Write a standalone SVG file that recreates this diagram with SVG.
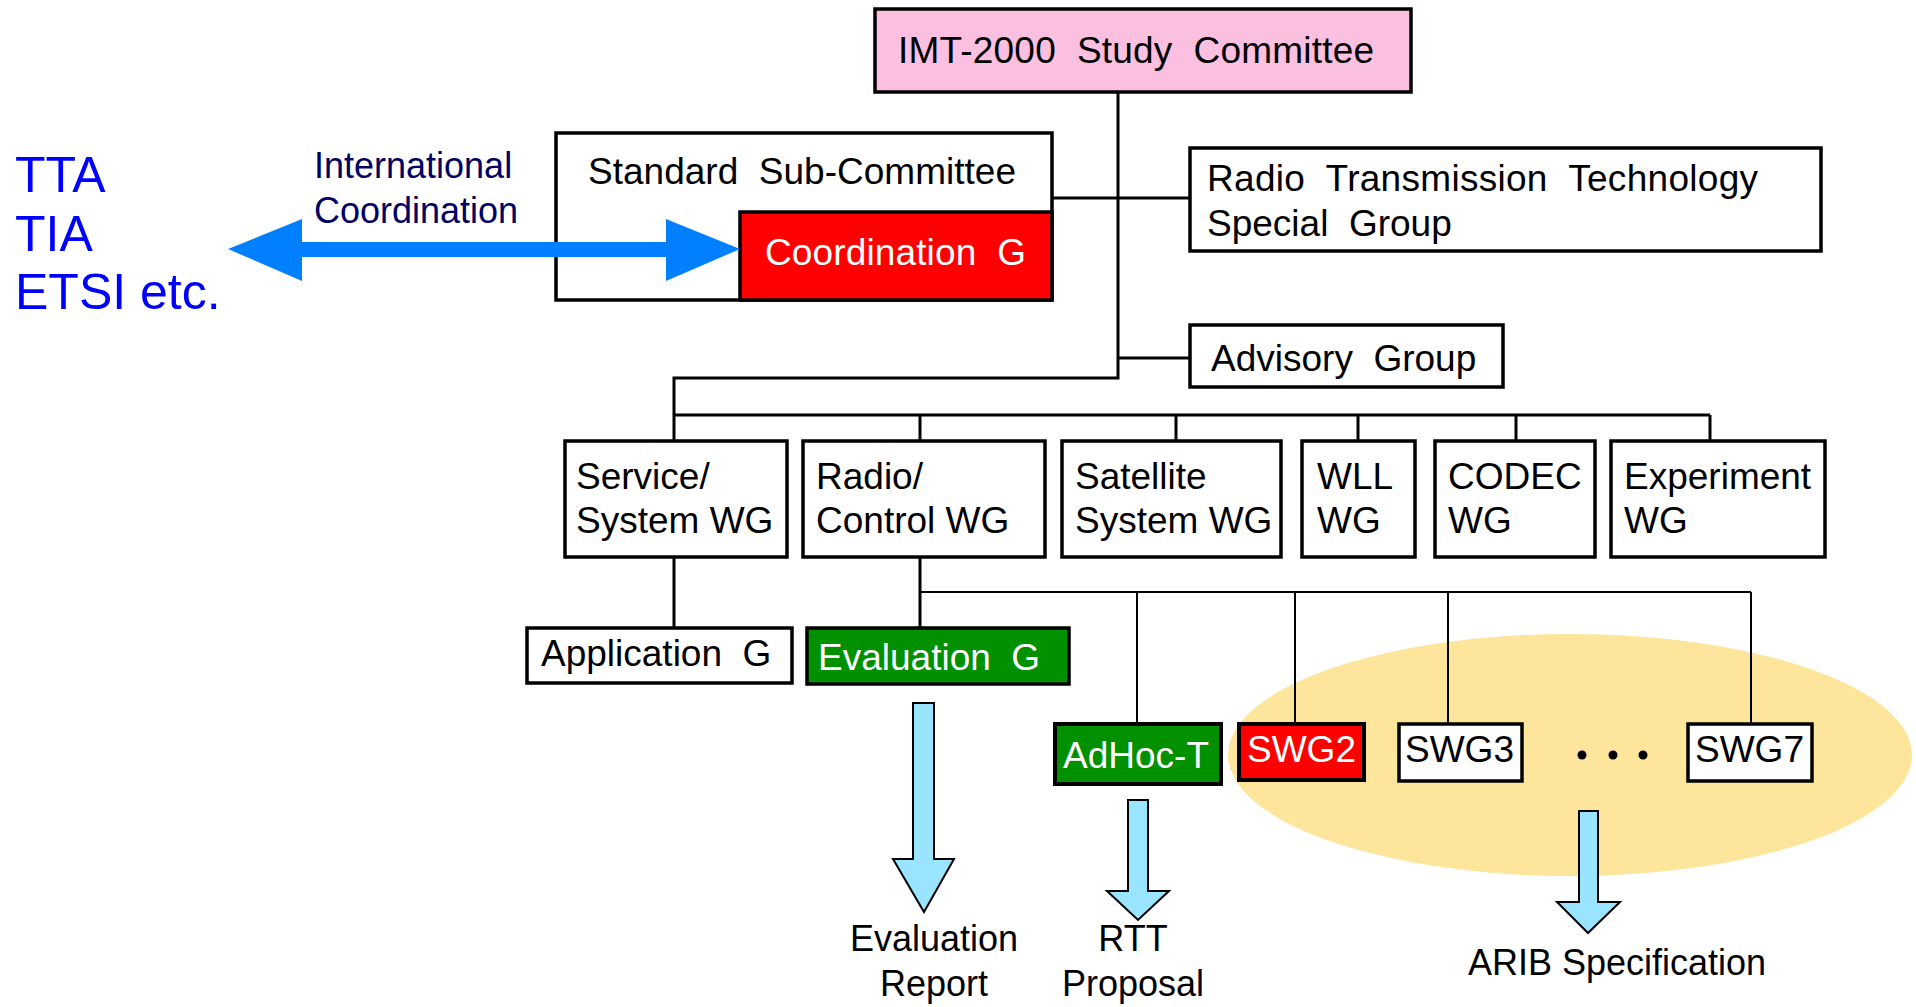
<svg xmlns="http://www.w3.org/2000/svg" width="1916" height="1007" viewBox="0 0 1916 1007">
<style>
text{font-family:"Liberation Sans",Arial,sans-serif;font-size:37px;fill:#000}
.box{fill:#fff;stroke:#000;stroke-width:3.5}
.w{fill:#fff}
.ln{stroke:#000;stroke-width:3;fill:none}
.thin{stroke:#000;stroke-width:2;fill:none}
.down{fill:#99E5FF;stroke:#000;stroke-width:2;stroke-linejoin:miter}
.lbl{font-size:36px;text-anchor:middle}
</style>
<rect width="1916" height="1007" fill="#fff"/>
<ellipse id="swg-area" cx="1570" cy="755" rx="342" ry="121" fill="#FDE59C"/>
<g id="imt"><rect x="875" y="9" width="536" height="83" fill="#FBBFE0" stroke="#000" stroke-width="3.5"/><text x="898" y="63" xml:space="preserve" textLength="476" lengthAdjust="spacing">IMT-2000  Study  Committee</text></g>
<g id="standard"><rect class="box" x="556" y="133" width="496" height="167"/><text x="588" y="184" xml:space="preserve" textLength="428" lengthAdjust="spacing">Standard  Sub-Committee</text></g>
<g id="coordination"><rect x="740" y="212" width="312" height="88" fill="#FF0000" stroke="#000" stroke-width="3.5"/><text class="w" x="765" y="265" xml:space="preserve" textLength="261" lengthAdjust="spacing">Coordination  G</text></g>
<g id="rtt-sg"><rect class="box" x="1190" y="148" width="631" height="103"/><text x="1207" y="191" xml:space="preserve" textLength="551" lengthAdjust="spacing">Radio  Transmission  Technology</text><text x="1207" y="236" xml:space="preserve">Special  Group</text></g>
<g id="advisory"><rect class="box" x="1190" y="325" width="313" height="62"/><text x="1211" y="371" xml:space="preserve">Advisory  Group</text></g>
<g id="service"><rect class="box" x="565" y="441" width="222" height="116"/><text x="576" y="489">Service/</text><text x="576" y="533">System WG</text></g>
<g id="radio"><rect class="box" x="803" y="441" width="242" height="116"/><text x="816" y="489">Radio/</text><text x="816" y="533">Control WG</text></g>
<g id="satellite"><rect class="box" x="1062" y="441" width="219" height="116"/><text x="1075" y="489">Satellite</text><text x="1075" y="533">System WG</text></g>
<g id="wll"><rect class="box" x="1302" y="441" width="113" height="116"/><text x="1317" y="489">WLL</text><text x="1317" y="533">WG</text></g>
<g id="codec"><rect class="box" x="1435" y="441" width="160" height="116"/><text x="1448" y="489">CODEC</text><text x="1448" y="533">WG</text></g>
<g id="experiment"><rect class="box" x="1611" y="441" width="214" height="116"/><text x="1624" y="489">Experiment</text><text x="1624" y="533">WG</text></g>
<g id="application"><rect class="box" x="527" y="628" width="265" height="55"/><text x="541" y="666" xml:space="preserve">Application  G</text></g>
<g id="evaluation"><rect x="807" y="628" width="262" height="56" fill="#009000" stroke="#000" stroke-width="3.5"/><text class="w" x="818" y="670" xml:space="preserve">Evaluation  G</text></g>
<g id="adhoc"><rect x="1055" y="724" width="166" height="60" fill="#009000" stroke="#000" stroke-width="4"/><text class="w" x="1063" y="768">AdHoc-T</text></g>
<g id="swg2"><rect x="1239" y="724" width="125" height="56" fill="#FF0000" stroke="#000" stroke-width="4"/><text class="w" x="1247" y="762">SWG2</text></g>
<g id="swg3"><rect class="box" x="1399" y="724" width="123" height="57" stroke-width="4"/><text x="1405" y="762">SWG3</text></g>
<g id="dots" fill="#000"><circle cx="1582" cy="755" r="4.5"/><circle cx="1613" cy="755" r="4.5"/><circle cx="1643" cy="755" r="4.5"/></g>
<g id="swg7"><rect class="box" x="1688" y="724" width="124" height="57" stroke-width="4"/><text x="1695" y="762">SWG7</text></g>
<g id="orgs"><text x="15" y="192" style="font-size:50px;fill:#0000FF">TTA</text><text x="15" y="251" style="font-size:50px;fill:#0000FF">TIA</text><text x="15" y="309" style="font-size:50px;fill:#0000FF">ETSI etc.</text></g>
<g id="intl-label"><text x="314" y="178" style="font-size:36px;fill:#000066">International</text><text x="314" y="223" style="font-size:36px;fill:#000066">Coordination</text></g>
<g id="outputs"><text class="lbl" x="934" y="951">Evaluation</text><text class="lbl" x="934" y="996">Report</text><text class="lbl" x="1133" y="951">RTT</text><text class="lbl" x="1133" y="996">Proposal</text><text class="lbl" x="1617" y="975">ARIB Specification</text></g>
<g id="connectors">
<path class="ln" d="M1118 92V378H674V441M674 415H1710M920 415V441M1176 415V441M1358 415V441M1516 415V441M1710 415V441"/>
<path class="ln" d="M1052 198H1190M1118 358H1190"/>
<path class="ln" d="M674 557V628M920 557V628"/>
<path class="thin" d="M920 592H1751M1137 592V724M1295 592V724M1448 592V724M1751 592V724"/>
<path id="intl-arrow" fill="#0080FF" d="M228 249L302 219V242H666V219L740 249L666 281V257H302V281Z"/>
<path class="down" d="M913 703H934V859H954L924 912L893 859H913Z"/>
<path class="down" d="M1128 800H1148V891H1169L1138 920L1107 891H1128Z"/>
<path class="down" d="M1579 811H1598V902H1620L1588 933L1557 902H1579Z"/>
</g>
</svg>
